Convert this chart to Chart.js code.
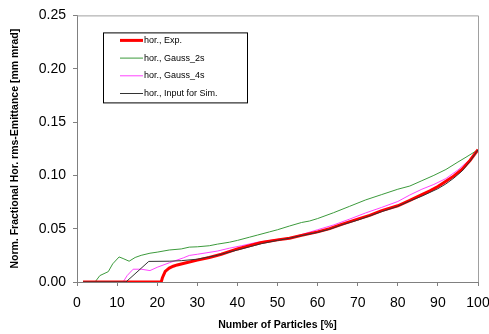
<!DOCTYPE html>
<html>
<head>
<meta charset="utf-8">
<script src="https://cdn.jsdelivr.net/npm/chart.js@4.4.0/dist/chart.umd.min.js"></script>
<style>
  html, body { margin: 0; padding: 0; background: #fff; }
  #wrap { width: 489px; height: 334px; }
</style>
</head>
<body>
<div id="wrap"><canvas id="emitChart" width="489" height="334"></canvas></div>
<script>
const series_labels = ['hor., Exp.', 'hor., Gauss_2s', 'hor., Gauss_4s', 'hor., Input for Sim.'];

const exp_x = [1.5, 21, 21.3, 22, 23, 24, 25, 27, 30, 33, 36, 40, 43, 46, 50, 53, 56, 60, 63, 66, 70, 73, 76, 80, 83, 86, 88, 90, 92, 94, 96, 98, 100];
const exp_y = [0, 0, 0.004, 0.010, 0.013, 0.0148, 0.016, 0.0178, 0.0205, 0.023, 0.026, 0.031, 0.034, 0.037, 0.0395, 0.041, 0.0437, 0.047, 0.050, 0.054, 0.059, 0.0625, 0.067, 0.0715, 0.0765, 0.082, 0.0855, 0.0895, 0.0945, 0.0995, 0.1055, 0.114, 0.124];

const g2_x = [1.5, 4.5, 5.7, 7.8, 8.9, 10.5, 11.5, 13, 14.5, 16, 18.2, 20, 23, 26, 28, 30, 33, 35, 38, 40, 43, 45, 48, 50, 53, 56, 58, 60, 64, 68, 72, 76, 80, 83, 86, 89, 92, 95, 97, 100];
const g2_y = [0, 0, 0.006, 0.0097, 0.017, 0.0235, 0.022, 0.0195, 0.023, 0.025, 0.027, 0.028, 0.030, 0.031, 0.0327, 0.033, 0.034, 0.0355, 0.0373, 0.039, 0.042, 0.044, 0.047, 0.049, 0.0525, 0.0558, 0.0572, 0.0595, 0.065, 0.071, 0.077, 0.082, 0.087, 0.090, 0.095, 0.100, 0.1055, 0.1125, 0.117, 0.124];

const g4_x = [1.5, 11.5, 12.5, 14, 16, 18.2, 20, 23, 26.5, 28, 30, 35, 38, 41, 45, 50, 53, 56, 60, 64, 68, 72, 76, 80, 83, 86, 89, 92, 95, 98, 100];
const g4_y = [0, 0, 0.006, 0.012, 0.012, 0.0107, 0.0138, 0.018, 0.0226, 0.0249, 0.026, 0.029, 0.0317, 0.034, 0.0373, 0.040, 0.0413, 0.0445, 0.049, 0.0535, 0.059, 0.0648, 0.070, 0.0755, 0.0816, 0.087, 0.0915, 0.097, 0.105, 0.115, 0.124];

const sim_x = [1.5, 12.2, 17.9, 23, 26, 30, 35, 40, 43, 46, 50, 53, 56, 60, 63, 66, 70, 73, 76, 80, 83, 86, 88, 90, 92, 94, 96, 98, 100];
const sim_y = [0, 0, 0.0193, 0.0195, 0.020, 0.0214, 0.025, 0.030, 0.033, 0.036, 0.039, 0.041, 0.0435, 0.0465, 0.0495, 0.0535, 0.058, 0.062, 0.066, 0.071, 0.076, 0.0805, 0.084, 0.0875, 0.092, 0.0975, 0.104, 0.113, 0.124];

const x_ticks = [0, 10, 20, 30, 40, 50, 60, 70, 80, 90, 100];
const y_ticks = [0, 0.05, 0.10, 0.15, 0.20, 0.25];

function pts(xs, ys) {
  return xs.map((x, i) => ({ x: x, y: ys[i] }));
}

// legend box drawn inside the plot, like the spreadsheet original
const boxLegend = {
  id: 'boxLegend',
  afterDraw(chart) {
    const ctx = chart.ctx;
    const a = chart.chartArea;
    const bx = a.left + 26, by = a.top + 17, bw = 144, bh = 70;
    ctx.save();
    ctx.strokeStyle = '#000';
    ctx.lineWidth = 1;
    ctx.strokeRect(bx + 0.5, by + 0.5, bw, bh);
    ctx.font = '9px "Liberation Sans", Arial, sans-serif';
    ctx.textBaseline = 'middle';
    ctx.fillStyle = '#000';
    chart.data.datasets.forEach((ds, i) => {
      const y = by + 8 + i * 17.7;
      ctx.strokeStyle = ds.borderColor;
      ctx.lineWidth = ds.borderWidth;
      ctx.beginPath();
      ctx.moveTo(bx + 17, y);
      ctx.lineTo(bx + 40, y);
      ctx.stroke();
      ctx.fillText(ds.label, bx + 41, y);
    });
    ctx.restore();
  }
};

// light frame on the top and right of the plot
const plotFrame = {
  id: 'plotFrame',
  beforeDatasetsDraw(chart) {
    const ctx = chart.ctx;
    const a = chart.chartArea;
    ctx.save();
    ctx.strokeStyle = '#a0a0a0';
    ctx.lineWidth = 1;
    ctx.beginPath();
    ctx.moveTo(a.left, a.top + 0.5);
    ctx.lineTo(a.right + 0.5, a.top + 0.5);
    ctx.lineTo(a.right + 0.5, a.bottom);
    ctx.stroke();
    ctx.restore();
  }
};

const tickFont = { family: '"Liberation Sans", Arial, sans-serif', size: 14 };
const titleFont = { family: '"Liberation Sans", Arial, sans-serif', size: 10.5, weight: 'bold' };

const config = {
  type: 'line',
  data: {
    datasets: [
      { label: series_labels[0], data: pts(exp_x, exp_y), borderColor: '#ff0000', borderWidth: 3, order: 1 },
      { label: series_labels[1], data: pts(g2_x, g2_y), borderColor: '#3c9a3c', borderWidth: 1, order: 3 },
      { label: series_labels[2], data: pts(g4_x, g4_y), borderColor: '#ff44ff', borderWidth: 1, order: 2 },
      { label: series_labels[3], data: pts(sim_x, sim_y), borderColor: '#333333', borderWidth: 1, order: 0 }
    ]
  },
  options: {
    responsive: false,
    animation: false,
    parsing: false,
    elements: {
      point: { radius: 0 },
      line: { tension: 0, fill: false }
    },
    layout: { padding: { top: 10, right: 11, left: 0, bottom: 0 } },
    plugins: {
      legend: { display: false },
      tooltip: { enabled: false }
    },
    scales: {
      x: {
        type: 'linear',
        min: 0,
        max: 100,
        afterBuildTicks: (s) => { s.ticks = x_ticks.map(v => ({ value: v })); },
        ticks: { font: tickFont, color: '#000', padding: 9, maxRotation: 0 },
        grid: { drawOnChartArea: false, drawTicks: true, tickLength: 4, color: '#808080' },
        border: { color: '#808080' },
        title: { display: true, text: 'Number of Particles [%]', font: titleFont, color: '#000', padding: { top: 4, bottom: 3 } },
        // let the "100" label run off the edge, as in the original
        afterFit: (s) => { s.height = 52; s.paddingRight = 0; s.paddingLeft = 0; }
      },
      y: {
        type: 'linear',
        min: 0,
        max: 0.25,
        afterBuildTicks: (s) => { s.ticks = y_ticks.map(v => ({ value: v })); },
        ticks: { font: tickFont, color: '#000', padding: 7, callback: (v) => v.toFixed(2) },
        grid: { drawOnChartArea: false, drawTicks: true, tickLength: 4, color: '#808080' },
        border: { color: '#808080' },
        title: { display: true, text: 'Norm. Fractional Hor. rms-Emittance [mm mrad]', font: titleFont, color: '#000', padding: { top: 9, bottom: 4 } },
        afterFit: (s) => { s.width = 77; }
      }
    }
  },
  plugins: [plotFrame, boxLegend]
};

const myChart = new Chart(document.getElementById('emitChart'), config);
</script>
</body>
</html>
